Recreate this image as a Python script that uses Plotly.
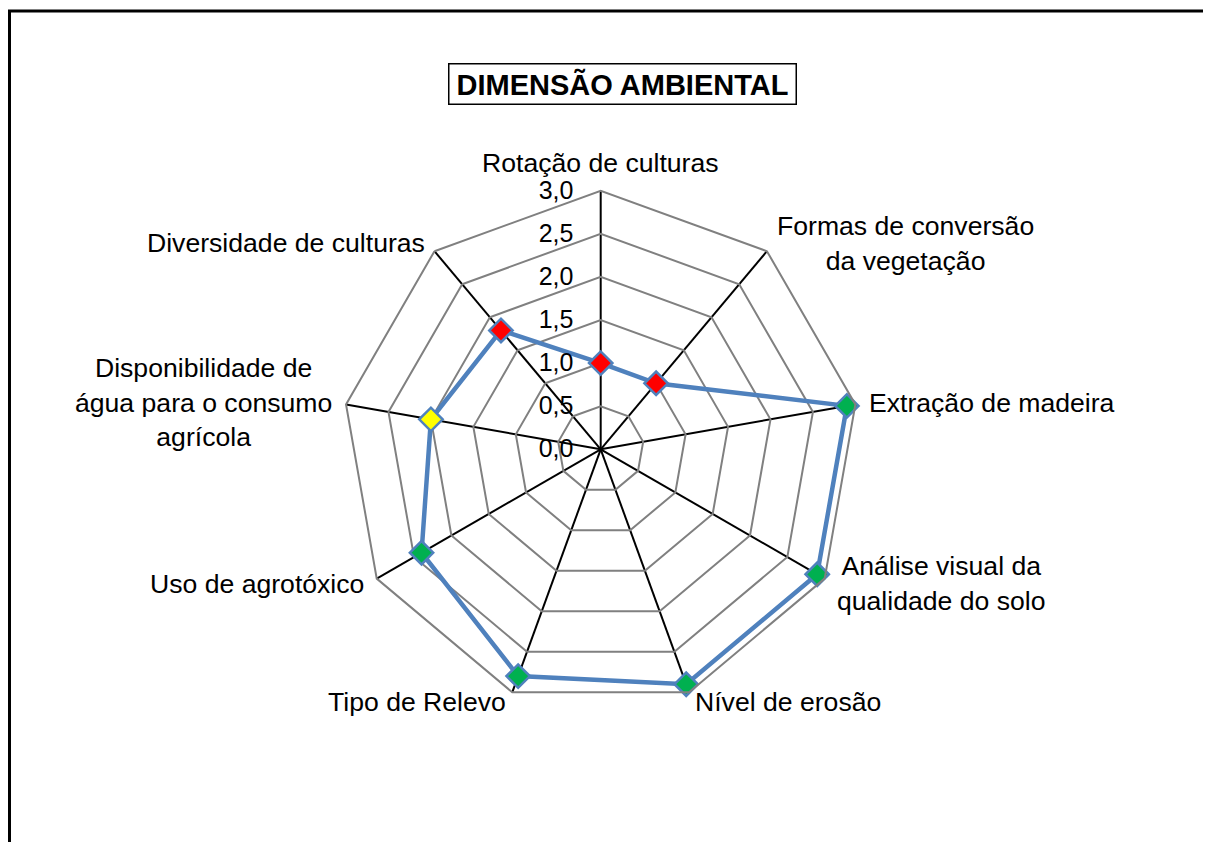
import math
import plotly.graph_objects as go

categories = [
    "Rotação de culturas",
    "Formas de conversão<br>da vegetação",
    "Extração de madeira",
    "Análise visual da<br>qualidade do solo",
    "Nível de erosão",
    "Tipo de Relevo",
    "Uso de agrotóxico",
    "Disponibilidade de<br>água para o consumo<br>agrícola",
    "Diversidade de culturas",
]
values = [1.0, 1.0, 2.9, 2.9, 2.9, 2.8, 2.4, 2.0, 1.8]
marker_colors = ["#FF0000", "#FF0000", "#00B050", "#00B050", "#00B050",
                 "#00B050", "#00B050", "#FFFF00", "#FF0000"]
radial_ticks = [0.0, 0.5, 1.0, 1.5, 2.0, 2.5, 3.0]
radial_ticktext = ["0,0", "0,5", "1,0", "1,5", "2,0", "2,5", "3,0"]
title_text = "DIMENSÃO AMBIENTAL"

W, H = 1211, 842
cx, cy, R = 592.7, 441.3, 258.6   # polar centre / outer radius in figure pixels

fig = go.Figure()
fig.add_trace(go.Scatterpolar(
    r=values + values[:1],
    theta=categories + categories[:1],
    mode="lines",
    line=dict(color="#4F81BD", width=4.5),
    hoverinfo="skip",
    showlegend=False,
))
fig.add_trace(go.Scatterpolar(
    r=values,
    theta=categories,
    mode="markers",
    marker=dict(symbol="diamond", size=18, color=marker_colors,
                line=dict(color="#4F81BD", width=2.5)),
    showlegend=False,
))

# category labels placed just outside each spoke (Excel style)
annotations = []
n = len(categories)
for i, lab in enumerate(categories):
    a = math.radians(360.0 * i / n)
    s, c = math.sin(a), math.cos(a)
    px = cx + R * s + 12 * s
    py = cy - R * c - 10.5 * c
    if abs(s) < 0.1:
        xa = "center"
    elif s > 0:
        xa = "left"
    else:
        xa = "right"
    ya = "bottom" if i == 0 else "middle"
    annotations.append(dict(
        text=lab, x=px / W, y=1 - py / H, xref="paper", yref="paper",
        xanchor=xa, yanchor=ya, align="center", showarrow=False,
        font=dict(size=26.6, color="black"),
    ))

annotations.append(dict(
    text="<b>" + title_text + "</b>", x=614 / W, y=1 - 55.5 / H,
    xref="paper", yref="paper", showarrow=False,
    width=338, height=31,
    font=dict(size=29, color="black"),
    bordercolor="black", borderwidth=1.5, borderpad=4, bgcolor="white",
))

fig.update_layout(
    width=W, height=H,
    margin=dict(l=0, r=0, t=0, b=0),
    paper_bgcolor="white",
    plot_bgcolor="white",
    font=dict(family="Liberation Sans, Arial, sans-serif", size=26, color="black"),
    polar=dict(
        domain=dict(x=[(cx - R) / W, (cx + R) / W],
                    y=[(H - cy - R) / H, (H - cy + R) / H]),
        bgcolor="white",
        gridshape="linear",
        angularaxis=dict(
            rotation=90, direction="clockwise",
            showgrid=True, gridcolor="black", gridwidth=1.5,
            showline=True, linecolor="#808080", linewidth=2,
            ticks="", showticklabels=False,
        ),
        radialaxis=dict(
            range=[0, 3], angle=90, tickangle=90,
            tickvals=radial_ticks, ticktext=radial_ticktext,
            showgrid=True, gridcolor="#808080", gridwidth=2,
            showline=False, ticks="outside", ticklen=18,
            tickcolor="rgba(0,0,0,0)", side="counterclockwise",
            tickfont=dict(size=25),
        ),
    ),
    annotations=annotations,
    shapes=[dict(type="rect", xref="paper", yref="paper",
                 x0=1.5 / W, x1=1201 / W, y0=-0.05, y1=1 - 3 / H,
                 line=dict(color="black", width=3))],
)

fig.write_html("out.html")
